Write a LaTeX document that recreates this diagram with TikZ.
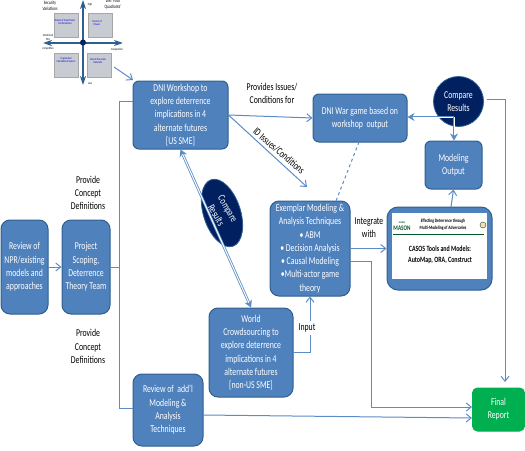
\documentclass[tikz,border=0pt]{standalone}
\usepackage{fontspec}
\setmainfont[FakeStretch=0.74]{Carlito}
\usepackage{tikz}
\usetikzlibrary{shapes.geometric, arrows.meta}

\definecolor{boxblue}{HTML}{4F81BD}
\definecolor{boxedge}{HTML}{2F5F8F}
\definecolor{linkblue}{HTML}{5B8CC8}
\definecolor{ovalnavy}{HTML}{002060}
\definecolor{reportgreen}{HTML}{00B050}
\definecolor{quadgrey}{HTML}{C8CCD2}

\begin{document}
\begin{tikzpicture}[x=1pt, y=-1pt,
    stepbox/.style={draw=boxedge, line width=1pt, rounded corners=6pt, fill=boxblue, text=white,
                    align=center, font=\fontsize{10.5}{13.3}\selectfont, inner sep=0pt},
    ovalbox/.style={draw=boxedge, line width=0.8pt, ellipse, fill=ovalnavy, text=white,
                    align=center, font=\fontsize{10.5}{13.3}\selectfont, inner sep=0pt},
    note/.style={align=center, font=\fontsize{10.5}{13.3}\selectfont, inner sep=0pt},
    link/.style={draw=linkblue, line width=1pt, -{Straight Barb[length=5pt,width=8pt]}},
    plainlink/.style={draw=linkblue, line width=1pt},
    dbllink/.style={draw=linkblue, double=white, double distance=1pt, line width=0.8pt},
    axis/.style={draw=boxedge, line width=1.6pt, {Stealth[length=9pt,width=6pt]}-{Stealth[length=9pt,width=6pt]}},
    quad/.style={draw=gray!70, fill=quadgrey, line width=0.5pt, minimum width=24pt, minimum height=24pt, inner sep=0pt},
    smalltext/.style={font=\fontsize{3.2}{3.8}\selectfont, align=center, inner sep=0pt},
    quadtext/.style={font=\fontsize{3}{3.6}\selectfont, align=center, inner sep=0pt, text=blue!80!black}
]
    \useasboundingbox (0,0) rectangle (525,450);

    % --- Quadrant sketch ---
    \node[quad] (qa) at (66,25) {};
    \node[quad] (qb) at (100,25) {};
    \node[quad] (qc) at (66,65) {};
    \node[quad] (qd) at (99,65) {};
    \node[quadtext] (ta) at (65,22) {Nature of Great Power\\Confrontations};
    \node[quadtext] (tb) at (97,23) {Concert of\\Powers};
    \node[quadtext] (tc) at (66,60) {Fragmented\\International System};
    \node[quadtext] (td) at (98,61) {Rise of Non-state\\Networks};
    \coordinate (ctop) at (83,0);
    \coordinate (cbot) at (83,85);
    \coordinate (cleft) at (43,43);
    \coordinate (cright) at (123,43);
    \draw[axis] (ctop) -- (cbot);
    \draw[axis] (cleft) -- (cright);
    \node[circle, fill=ovalnavy, minimum size=6pt, inner sep=0pt] (hub) at (83,42.5) {};
    \node[smalltext, font=\fontsize{5}{6.5}\selectfont] (sec) at (50,6) {Security\\Variations};
    \node[smalltext, font=\fontsize{5}{6}\selectfont] (dni) at (113,4) {DNI `Four\\Quadrants'};
    \node[smalltext] (high) at (90,5) {High};
    \node[smalltext] (low) at (90,83) {Low};
    \node[smalltext] (comp) at (48,49) {competitive};
    \node[smalltext] (coop) at (117,50) {Cooperative};
    \node[smalltext] (mix) at (48,37) {Intentional\\Mix};

    % --- Boxes ---
    \node[stepbox, minimum width=95pt, minimum height=68pt] (workshop) at (180.5,115) {DNI Workshop to\\explore deterrence\\implications in 4\\alternate futures\\{[US SME]}};
    \node[stepbox, minimum width=94pt, minimum height=48pt] (wargame) at (360,118) {DNI War game based on\\workshop\ \ output};
    \node[stepbox, minimum width=57pt, minimum height=48pt] (output) at (453.5,165) {Modeling\\Output};
    \node[stepbox, minimum width=80pt, minimum height=95pt, rounded corners=9pt] (exemplar) at (310,248.5) {Exemplar Modeling \&\\Analysis Techniques\\{\textbullet} ABM\\{\textbullet} Decision Analysis\\{\textbullet} Causal Modeling\\{\textbullet}Multi-actor game\\theory};
    \node[stepbox, minimum width=84pt, minimum height=89pt, rounded corners=9pt] (world) at (251,352.5) {World\\Crowdsourcing to\\explore deterrence\\implications in 4\\alternate futures\\{[non-US SME]}};
    \node[stepbox, minimum width=70pt, minimum height=72pt, rounded corners=9pt] (addl) at (168,410) {Review of\ \ add'l\\Modeling \&\\Analysis\\Techniques};
    \node[stepbox, minimum width=47pt, minimum height=94pt, rounded corners=9pt] (npr) at (24.5,267) {Review of\\NPR/existing\\models and\\approaches};
    \node[stepbox, minimum width=48pt, minimum height=94pt, rounded corners=9pt] (scoping) at (86,267) {Project\\Scoping,\\Deterrence\\Theory Team};
    \node[stepbox, rounded corners=11pt, minimum width=105pt, minimum height=83pt] (casos) at (439.5,248.5) {};
    \node[fill=white, inner sep=0pt, minimum width=95pt, minimum height=66pt] (casosinner) at (439.5,246) {};
    \node[stepbox, fill=reportgreen, draw=reportgreen, rounded corners=5pt, minimum width=52pt, minimum height=43pt] (report) at (498.5,409.5) {Final\\Report};

    % --- Slide inside the CASOS box ---
    \node[inner sep=0pt, font=\fontsize{2.5}{3}\selectfont\bfseries, text=reportgreen!50!black] (george) at (402,223) {GEORGE};
    \node[inner sep=0pt, font=\fontsize{7}{8}\selectfont\bfseries, text=reportgreen!50!black] (mason) at (402,228.5) {MASON};
    \node[inner sep=0pt, font=\fontsize{5}{7.5}\selectfont\bfseries, align=center] (slide) at (443,224.5) {Effecting Deterrence through\\Multi-Modeling of Adversaries};
    \node[circle, draw=reportgreen!50!black, fill=orange!30, minimum size=6pt, inner sep=0pt] (seal) at (483,225) {};
    \draw[draw=reportgreen!50!black, line width=1pt] (393,234.5) -- (484,234.5);
    \node[inner sep=0pt, font=\fontsize{8}{11}\selectfont\bfseries, align=center] (tools) at (440,254.5) {CASOS Tools and Models:\\AutoMap, ORA, Construct};

    % --- Ovals ---
    \node[ovalbox, circle, minimum size=50pt] (cmpcircle) at (458.5,101.5) {Compare\\Results};
    \node[ovalbox, minimum width=37pt, minimum height=70pt, rotate=18] (cmpoval) at (222,213) {};
    \node[note, text=white, rotate=-60] (cmptext) at (222,212) {Compare\\Results};

    % --- Labels ---
    \node[note] (lblprovides) at (272,93.5) {Provides Issues/\\Conditions for};
    \node[note, rotate=-41] (lblid) at (279,151) {ID Issues/Conditions};
    \node[note] (lblconcept) at (88,193) {Provide\\Concept\\Definitions};
    \node[note] (lblconceptb) at (88,346.5) {Provide\\Concept\\Definitions};
    \node[note] (lblintegrate) at (369,228) {Integrate\\with};

    % --- Connections ---
    \coordinate (qfrom) at (114,67);
    \coordinate (wkin) at (133,80);
    \coordinate (wkout) at (133,101);
    \coordinate (addlin) at (133,408);
    \coordinate (addlout) at (203,415);
    \coordinate (exdown) at (350,261);
    \coordinate (exin) at (307,187);
    \coordinate (rep1) at (472,407);
    \coordinate (rep2) at (472,418);
    \coordinate (reptop) at (505,382);
    \coordinate (cmpout) at (487,99);
    \coordinate (branch) at (119,267);
    \coordinate (wgdash) at (359,142);
    \coordinate (exdash) at (336,201);
    \coordinate (dblturn) at (454,117);
    \coordinate (casostop) at (451,207);
    \draw[link] (qfrom) -- (wkin);
    \draw[link] (workshop.east) -- (wargame.west);
    \draw[link] (workshop.east) -- (exin);
    \draw[plainlink, dashed] (wgdash) -- (exdash);
    \draw[link] (npr) -- (scoping);
    \draw[plainlink] (scoping.east) -- (branch);
    \draw[plainlink] (wkout) -| (119,408) -- (addlin);
    \draw[link] (world.east) -| (exemplar.south);
    \node[note, fill=white, inner ysep=3pt] (lblinput) at (307,328) {Input};
    \draw[link] (exemplar.east) -- (casos.west);
    \draw[link] (exdown) -| (371,407) -- (rep1);
    \draw[link] (addlout) -- (rep2);
    \draw[link] (casostop) -- (output.south);
    \draw[link] (cmpout) -| (reptop);
    % double connectors
    \draw[dbllink, {Stealth[length=7pt,width=8pt]}-{Stealth[length=7pt,width=8pt]}] (workshop.south) -- (world.north);
    \draw[dbllink, -{Stealth[length=7pt,width=8pt]}] (dblturn) -- (wargame.east |- dblturn);
    \draw[dbllink, -{Stealth[length=7pt,width=8pt]}] (dblturn) -- (output.north -| dblturn);
\end{tikzpicture}
\end{document}
